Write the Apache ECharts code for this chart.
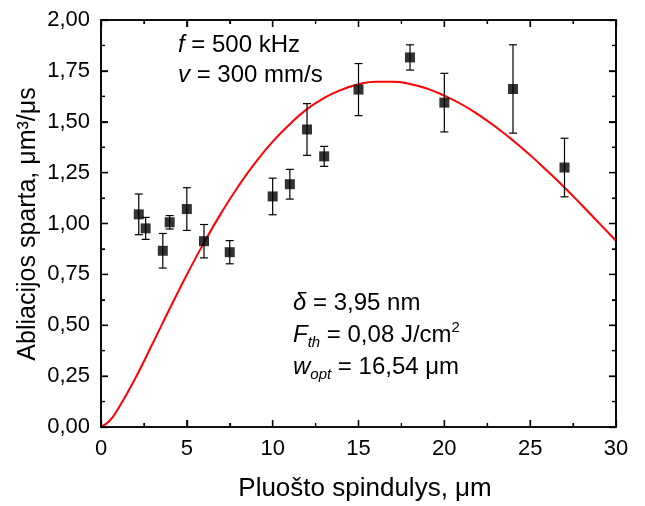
<!DOCTYPE html>
<html>
<head>
<meta charset="utf-8">
<script src="https://cdn.jsdelivr.net/npm/echarts@6/dist/echarts.min.js"></script>
<style>html,body{margin:0;padding:0;background:#fff}#c{width:645px;height:506px}</style>
</head>
<body>
<div id="c"></div>
<script>
// Measured points: radius (µm), ablation rate, error (±)
var xData = [2.2, 2.6, 3.6, 4.0, 5.0, 6.0, 7.5, 10.0, 11.0, 12.0, 13.0, 15.0, 18.0, 20.0, 24.0, 27.0];
var yData = [1.045, 0.976, 0.866, 1.006, 1.071, 0.913, 0.859, 1.133, 1.193, 1.462, 1.330, 1.658, 1.816, 1.594, 1.661, 1.275];
var errData = [0.100, 0.054, 0.085, 0.033, 0.105, 0.082, 0.057, 0.090, 0.073, 0.127, 0.049, 0.128, 0.062, 0.144, 0.217, 0.144];
// Fitted curve
var curveX = [0, 0.5, 1, 2, 3, 4, 5, 6, 7, 8, 9, 10, 11, 12, 13, 14, 15, 16, 17, 18, 19, 20, 21, 22, 23, 24, 25, 26, 27, 28, 29, 30];
var curveY = [0, 0.031, 0.090, 0.240, 0.409, 0.581, 0.748, 0.906, 1.051, 1.183, 1.300, 1.402, 1.488, 1.562, 1.617, 1.657, 1.684, 1.697, 1.697, 1.686, 1.663, 1.628, 1.586, 1.534, 1.474, 1.408, 1.336, 1.258, 1.177, 1.091, 1.003, 0.915];
var xTicks = {min: 0, max: 30, interval: 5};
var yTicks = {min: 0, max: 2, interval: 0.25};
var xTitle = 'Pluošto spindulys, μm';
var yTitle = 'Abliacijos sparta, μm³/μs';

var FONT = 'Liberation Sans, Arial, sans-serif';
var chart = echarts.init(document.getElementById('c'));

var points = xData.map(function (x, i) { return [x, yData[i]]; });
var errs = xData.map(function (x, i) { return [x, yData[i] - errData[i], yData[i] + errData[i]]; });
var curve = curveX.map(function (x, i) { return [x, curveY[i]]; });

function mkAx(kind, pos, showLabel) {
  var t = kind === 'x' ? xTicks : yTicks;
  var a = {
    type: 'value', position: pos, min: t.min, max: t.max, interval: t.interval, z: 50,
    axisLine: {show: true, onZero: false, lineStyle: {color: '#000', width: 1.6}},
    axisTick: {show: true, inside: true, length: 7, lineStyle: {color: '#000', width: 1.3}},
    minorTick: {show: true, splitNumber: 2, length: 4, lineStyle: {color: '#000', width: 1.2}},
    axisLabel: {show: showLabel, color: '#000', fontFamily: FONT, fontSize: 22, margin: 11},
    splitLine: {show: false}
  };
  if (kind === 'y') a.axisLabel.formatter = function (v) { return v.toFixed(2).replace('.', ','); };
  return a;
}

var big = {fontFamily: FONT, fontSize: 24, color: '#000', lineHeight: 30, verticalAlign: 'middle'};
var bigI = Object.assign({}, big, {fontStyle: 'italic'});
var sub = {fontFamily: FONT, fontSize: 15, color: '#000', fontStyle: 'italic', lineHeight: 13, verticalAlign: 'bottom'};
var sup = {fontFamily: FONT, fontSize: 15, color: '#000', lineHeight: 15, verticalAlign: 'top'};
var richStyles = {n: big, i: bigI, s: sub, p: sup};

function label(x, y, txt) {
  return {type: 'text', left: x, top: y, z: 10, style: {text: txt, rich: richStyles, fill: '#000', fontFamily: FONT, fontSize: 24}};
}

chart.setOption({
  animation: false,
  grid: {left: 101, right: 29, top: 20, bottom: 79},
  xAxis: [mkAx('x', 'bottom', true), mkAx('x', 'top', false)],
  yAxis: [mkAx('y', 'left', true), mkAx('y', 'right', false)],
  series: [
    {
      type: 'line', data: curve, smooth: true, showSymbol: false, symbol: 'none',
      lineStyle: {color: '#ff0000', width: 2}, z: 2
    },
    {
      type: 'custom', data: errs, z: 3,
      renderItem: function (params, api) {
        var top = api.coord([api.value(0), api.value(2)]);
        var bot = api.coord([api.value(0), api.value(1)]);
        var w = 4;
        var st = {stroke: '#000', lineWidth: 1.2};
        return {type: 'group', children: [
          {type: 'line', shape: {x1: top[0], y1: top[1], x2: bot[0], y2: bot[1]}, style: st},
          {type: 'line', shape: {x1: top[0] - w, y1: top[1], x2: top[0] + w, y2: top[1]}, style: st},
          {type: 'line', shape: {x1: bot[0] - w, y1: bot[1], x2: bot[0] + w, y2: bot[1]}, style: st}
        ]};
      }
    },
    {
      type: 'scatter', data: points, symbol: 'rect', symbolSize: 10,
      itemStyle: {color: '#000'}, z: 4
    }
  ]
});

// Frame and inward ticks, placed through the chart's own scales
var g = [
  {type: 'text', x: 365, y: 489, z: 10, style: {text: xTitle, fill: '#000', fontFamily: FONT, fontSize: 26, align: 'center', verticalAlign: 'middle'}},
  {type: 'text', x: 28, y: 224, rotation: Math.PI / 2, z: 10, style: {text: yTitle, fill: '#000', fontFamily: FONT, fontSize: 25, align: 'center', verticalAlign: 'middle'}},
  label(178, 33, '{i|f}{n| = 500 kHz}'),
  label(178, 63, '{i|v}{n| = 300 mm/s}'),
  label(293, 291, '{i|δ}{n| = 3,95 nm}'),
  label(293, 320, '{i|F}{s|th}{n| = 0,08 J/cm}{p|2}'),
  label(293, 355, '{i|w}{s|opt}{n| = 16,54 μm}')
];
var pMin = chart.convertToPixel({gridIndex: 0}, [xTicks.min, yTicks.min]);
var pMax = chart.convertToPixel({gridIndex: 0}, [xTicks.max, yTicks.max]);
var L = pMin[0], B = pMin[1], R = pMax[0], T = pMax[1];
var tickStyle = function (w) { return {stroke: '#000', lineWidth: w}; };
g.push({type: 'rect', z: 100, silent: true, shape: {x: L, y: T, width: R - L, height: B - T}, style: {fill: 'none', stroke: '#000', lineWidth: 1.6}});
var k, v, px, major, len;
var nx = Math.round((xTicks.max - xTicks.min) / (xTicks.interval / 2));
for (k = 0; k <= nx; k++) {
  v = xTicks.min + k * xTicks.interval / 2;
  px = chart.convertToPixel({gridIndex: 0}, [v, yTicks.min])[0];
  major = k % 2 === 0; len = major ? 7 : 4;
  g.push({type: 'line', z: 100, silent: true, shape: {x1: px, y1: B, x2: px, y2: B - len}, style: tickStyle(major ? 1.3 : 1.2)});
  g.push({type: 'line', z: 100, silent: true, shape: {x1: px, y1: T, x2: px, y2: T + len}, style: tickStyle(major ? 1.3 : 1.2)});
}
var ny = Math.round((yTicks.max - yTicks.min) / (yTicks.interval / 2));
for (k = 0; k <= ny; k++) {
  v = yTicks.min + k * yTicks.interval / 2;
  px = chart.convertToPixel({gridIndex: 0}, [xTicks.min, v])[1];
  major = k % 2 === 0; len = major ? 7 : 4;
  g.push({type: 'line', z: 100, silent: true, shape: {x1: L, y1: px, x2: L + len, y2: px}, style: tickStyle(major ? 1.3 : 1.2)});
  g.push({type: 'line', z: 100, silent: true, shape: {x1: R, y1: px, x2: R - len, y2: px}, style: tickStyle(major ? 1.3 : 1.2)});
}
chart.setOption({graphic: g});
</script>
</body>
</html>
